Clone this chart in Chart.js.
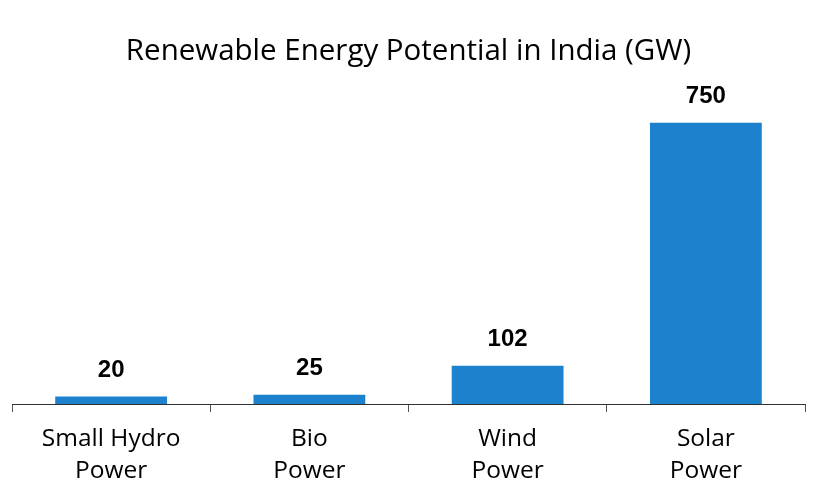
<!DOCTYPE html>
<html>
<head>
<meta charset="utf-8">
<script src="https://cdn.jsdelivr.net/npm/chart.js@4"></script>
<style>
html,body{margin:0;padding:0;background:#fff;}
#wrap{width:830px;height:481px;}
</style>
</head>
<body>
<div id="wrap"><canvas id="c" width="830" height="481"></canvas></div>
<script>
const categories = [["Small Hydro","Power"],["Bio","Power"],["Wind","Power"],["Solar","Power"]];
const potentialGW = [20, 25, 102, 750];
const chartTitle = "Renewable Energy Potential in India (GW)";

const valueLabels = {
  id: 'valueLabels',
  afterDatasetsDraw(chart) {
    const ctx = chart.ctx;
    const meta = chart.getDatasetMeta(0);
    ctx.save();
    ctx.font = 'bold 24px "Liberation Sans", Arial, sans-serif';
    ctx.fillStyle = '#000';
    ctx.textAlign = 'center';
    ctx.textBaseline = 'middle';
    meta.data.forEach((bar, i) => {
      ctx.fillText(String(potentialGW[i]), bar.x, bar.y - 26);
    });
    ctx.restore();
  }
};

new Chart(document.getElementById('c'), {
  type: 'bar',
  data: {
    labels: categories,
    datasets: [{
      data: potentialGW,
      backgroundColor: '#1c82cd',
      borderWidth: 0,
      categoryPercentage: 0.564,
      barPercentage: 1.0
    }]
  },
  options: {
    responsive: false,
    animation: false,
    devicePixelRatio: 1,
    layout: { padding: { left: 12, right: 25, top: 0, bottom: 0 } },
    plugins: {
      legend: { display: false },
      tooltip: { enabled: false },
      title: {
        display: true,
        text: chartTitle,
        color: '#000',
        font: { family: '"Open Sans", sans-serif', size: 29.5, weight: 'normal', lineHeight: 1.2 },
        padding: { top: 34, bottom: 34.6 }
      }
    },
    scales: {
      x: {
        offset: true,
        grid: {
          display: true,
          offset: true,
          drawOnChartArea: false,
          drawTicks: true,
          tickLength: 8,
          color: '#555'
        },
        border: { display: true, color: '#333', width: 1 },
        ticks: {
          color: '#000',
          padding: 11,
          font: { family: '"Open Sans", sans-serif', size: 24.5, lineHeight: 1.3 },
          maxRotation: 0,
          autoSkip: false
        },
        afterFit(scale) { scale.height = 77; }
      },
      y: {
        display: false,
        min: 0,
        max: 800
      }
    }
  },
  plugins: [valueLabels]
});
</script>
</body>
</html>
